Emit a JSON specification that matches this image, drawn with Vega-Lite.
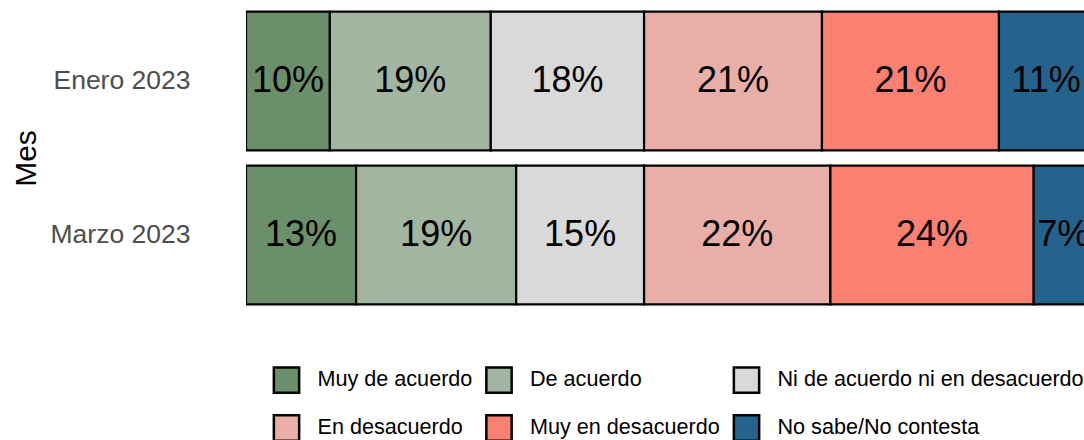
{
  "$schema": "https://vega.github.io/schema/vega-lite/v6.json",
  "width": 838,
  "height": 308,
  "autosize": {"type": "none"},
  "padding": {"left": 246, "top": 4, "right": 0, "bottom": 128},
  "background": "white",
  "config": {
    "view": {"stroke": null},
    "font": "Liberation Sans"
  },
  "data": {
    "values": [
      {"mes": "Enero 2023", "respuesta": "Muy de acuerdo", "orden": 1, "valor": 0.099},
      {"mes": "Enero 2023", "respuesta": "De acuerdo", "orden": 2, "valor": 0.190},
      {"mes": "Enero 2023", "respuesta": "Ni de acuerdo ni en desacuerdo", "orden": 3, "valor": 0.181},
      {"mes": "Enero 2023", "respuesta": "En desacuerdo", "orden": 4, "valor": 0.210},
      {"mes": "Enero 2023", "respuesta": "Muy en desacuerdo", "orden": 5, "valor": 0.209},
      {"mes": "Enero 2023", "respuesta": "No sabe/No contesta", "orden": 6, "valor": 0.111},
      {"mes": "Marzo 2023", "respuesta": "Muy de acuerdo", "orden": 1, "valor": 0.130},
      {"mes": "Marzo 2023", "respuesta": "De acuerdo", "orden": 2, "valor": 0.189},
      {"mes": "Marzo 2023", "respuesta": "Ni de acuerdo ni en desacuerdo", "orden": 3, "valor": 0.151},
      {"mes": "Marzo 2023", "respuesta": "En desacuerdo", "orden": 4, "valor": 0.220},
      {"mes": "Marzo 2023", "respuesta": "Muy en desacuerdo", "orden": 5, "valor": 0.240},
      {"mes": "Marzo 2023", "respuesta": "No sabe/No contesta", "orden": 6, "valor": 0.070}
    ]
  },
  "transform": [
    {"stack": "valor", "groupby": ["mes"], "sort": [{"field": "orden", "order": "ascending"}], "as": ["x0", "x1"]}
  ],
  "encoding": {
    "y": {
      "field": "mes",
      "type": "nominal",
      "sort": ["Enero 2023", "Marzo 2023"],
      "scale": {"paddingInner": 0.1, "paddingOuter": 0.05},
      "axis": {
        "title": "Mes",
        "titleFontSize": 30,
        "titleFontWeight": "normal",
        "titleColor": "black",
        "titlePadding": 9,
        "labelFontSize": 26.5,
        "labelColor": "#4d4d4d",
        "labelPadding": 56,
        "ticks": false,
        "domain": false,
        "grid": false
      }
    }
  },
  "layer": [
    {
      "mark": {"type": "bar", "stroke": "black", "strokeWidth": 2.2, "clip": true},
      "encoding": {
        "x": {"field": "x0", "type": "quantitative", "scale": {"domain": [0, 0.9894], "nice": false, "zero": false}, "axis": null},
        "x2": {"field": "x1"},
        "color": {
          "field": "respuesta",
          "type": "nominal",
          "scale": {
            "domain": ["Muy de acuerdo", "De acuerdo", "Ni de acuerdo ni en desacuerdo", "En desacuerdo", "Muy en desacuerdo", "No sabe/No contesta"],
            "range": ["#6b8e6b", "#a2b5a1", "#d9d9d9", "#eaaea9", "#fa8072", "#23638e"]
          },
          "legend": {
            "title": null,
            "orient": "none",
            "legendX": 26.5,
            "legendY": 362,
            "direction": "horizontal",
            "columns": 3,
            "symbolType": "square",
            "symbolSize": 640,
            "symbolStrokeColor": "black",
            "symbolStrokeWidth": 2.5,
            "symbolOpacity": 1,
            "labelFontSize": 21.6,
            "labelColor": "black",
            "labelOffset": 17,
            "columnPadding": 8.5,
            "rowPadding": 12,
            "padding": 0,
            "labelLimit": 400
          }
        }
      }
    },
    {
      "transform": [
        {"fold": ["x0", "x1"], "as": ["borde", "pos"]},
        {"aggregate": [{"op": "mean", "field": "pos", "as": "centro"}], "groupby": ["mes", "respuesta", "valor"]}
      ],
      "mark": {"type": "text", "fontSize": 36, "color": "black", "baseline": "middle", "align": "center", "clip": true},
      "encoding": {
        "x": {"field": "centro", "type": "quantitative"},
        "text": {"field": "valor", "type": "quantitative", "format": ".0%"}
      }
    }
  ]
}
